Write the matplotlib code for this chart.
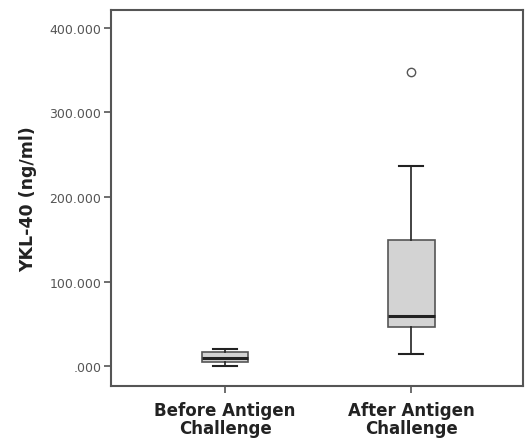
import matplotlib
matplotlib.use("Agg")
import matplotlib.pyplot as plt

categories = ["Before Antigen\nChallenge", "After Antigen\nChallenge"]
whislo = [0.0, 15.0]
q1 = [4.7, 47.0]
med = [9.5, 59.0]
q3 = [16.6, 149.0]
whishi = [21.0, 237.0]
fliers = [[], [348.0]]
yticks = [0, 100, 200, 300, 400]
ytick_labels = [".000", "100.000", "200.000", "300.000", "400.000"]

stats = []
for i in range(len(categories)):
    stats.append(dict(whislo=whislo[i], q1=q1[i], med=med[i], q3=q3[i],
                      whishi=whishi[i], fliers=fliers[i], label=categories[i]))

fig = plt.figure(figsize=(5.25, 4.39), dpi=100)
ax = fig.add_axes([0.2114, 0.118, 0.785, 0.857])
ax.bxp(stats, positions=[1, 2], widths=0.25, patch_artist=True,
       boxprops=dict(facecolor="#d3d3d3", edgecolor="#555555", linewidth=1.2),
       medianprops=dict(color="#222222", linewidth=2.2),
       whiskerprops=dict(color="#222222", linewidth=1.2),
       capprops=dict(color="#222222", linewidth=1.5),
       capwidths=0.13,
       flierprops=dict(marker="o", markersize=6, markerfacecolor="white",
                       markeredgecolor="#555555", markeredgewidth=1.0))
ax.set_xlim(0.387, 2.60)
ax.set_ylim(-23.5, 421)
ax.set_yticks(yticks)
ax.set_yticklabels(ytick_labels, fontsize=9, color="#555555")
ax.set_xticks([1, 2])
ax.set_xticklabels(categories, fontsize=12, fontweight="bold", color="#222222",
                   linespacing=0.95)
ax.set_ylabel("YKL-40 (ng/ml)", fontsize=12.5, fontweight="bold", color="#222222", labelpad=9)
for s in ax.spines.values():
    s.set_color("#555555")
    s.set_linewidth(1.5)
ax.tick_params(axis="both", direction="out", length=5, width=1.2, color="#555555")
ax.tick_params(axis="y", pad=2)
ax.tick_params(axis="x", pad=6)
fig.savefig("out.png", dpi=100)
